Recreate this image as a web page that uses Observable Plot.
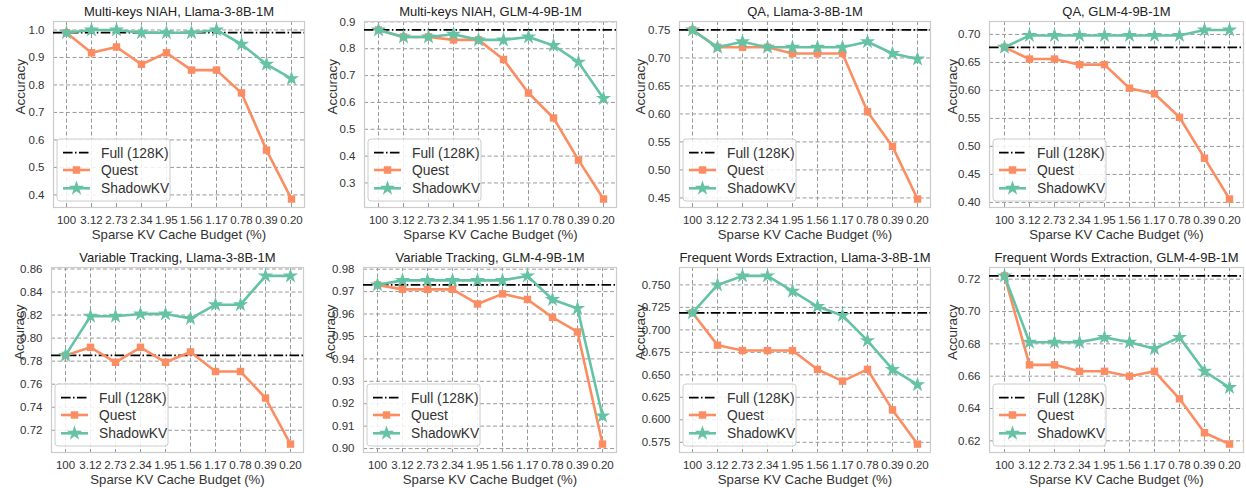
<!DOCTYPE html>
<html><head><meta charset="utf-8">
<script src="https://cdn.jsdelivr.net/npm/d3@7"></script>
<script src="https://cdn.jsdelivr.net/npm/@observablehq/plot@0.6"></script>
<style>
body{margin:0;background:#fff;}
#wrap{position:relative;width:1246px;height:488px;overflow:hidden;font-family:"Liberation Sans",Arial,sans-serif;}
#wrap svg{position:absolute;overflow:visible;}
</style></head><body><div id="wrap"></div>
<script>
// ---------------- data ----------------
const budgets = ["100","3.12","2.73","2.34","1.95","1.56","1.17","0.78","0.39","0.20"];
const titles = [
  "Multi-keys NIAH, Llama-3-8B-1M", "Multi-keys NIAH, GLM-4-9B-1M",
  "QA, Llama-3-8B-1M", "QA, GLM-4-9B-1M",
  "Variable Tracking, Llama-3-8B-1M", "Variable Tracking, GLM-4-9B-1M",
  "Frequent Words Extraction, Llama-3-8B-1M", "Frequent Words Extraction, GLM-4-9B-1M"
];
const seriesNames = ["Full (128K)", "Quest", "ShadowKV"];
const fullValues = [0.99, 0.87, 0.75, 0.677, 0.785, 0.973, 0.719, 0.722];

const quest1 = [0.99, 0.917, 0.938, 0.875, 0.917, 0.854, 0.854, 0.771, 0.563, 0.385];
const shadow1 = [0.99, 1.0, 1.0, 0.99, 0.99, 0.99, 1.0, 0.948, 0.875, 0.823];
const quest2 = [0.87, 0.844, 0.844, 0.833, 0.833, 0.76, 0.635, 0.542, 0.385, 0.24];
const shadow2 = [0.87, 0.844, 0.844, 0.854, 0.833, 0.833, 0.844, 0.812, 0.75, 0.615];
const quest3 = [0.75, 0.719, 0.719, 0.719, 0.708, 0.708, 0.708, 0.604, 0.542, 0.448];
const shadow3 = [0.75, 0.719, 0.729, 0.719, 0.719, 0.719, 0.719, 0.729, 0.708, 0.698];
const quest4 = [0.677, 0.656, 0.656, 0.646, 0.646, 0.604, 0.594, 0.552, 0.479, 0.406];
const shadow4 = [0.677, 0.698, 0.698, 0.698, 0.698, 0.698, 0.698, 0.698, 0.708, 0.708];
const quest5 = [0.785, 0.792, 0.779, 0.792, 0.779, 0.788, 0.771, 0.771, 0.748, 0.708];
const shadow5 = [0.785, 0.819, 0.819, 0.821, 0.821, 0.817, 0.829, 0.829, 0.854, 0.854];
const quest6 = [0.973, 0.971, 0.971, 0.971, 0.9645, 0.969, 0.9665, 0.9585, 0.952, 0.902];
const shadow6 = [0.973, 0.975, 0.975, 0.975, 0.975, 0.975, 0.977, 0.9665, 0.9625, 0.9145];
const quest7 = [0.719, 0.683, 0.677, 0.677, 0.677, 0.656, 0.643, 0.656, 0.611, 0.573];
const shadow7 = [0.719, 0.75, 0.76, 0.76, 0.743, 0.726, 0.716, 0.688, 0.656, 0.639];
const quest8 = [0.722, 0.667, 0.667, 0.663, 0.663, 0.66, 0.663, 0.646, 0.625, 0.618];
const shadow8 = [0.722, 0.681, 0.681, 0.681, 0.684, 0.681, 0.677, 0.684, 0.663, 0.653];

const yTicks1 = [0.4, 0.5, 0.6, 0.7, 0.8, 0.9, 1.0];
const yTicks2 = [0.3, 0.4, 0.5, 0.6, 0.7, 0.8, 0.9];
const yTicks3 = [0.45, 0.50, 0.55, 0.60, 0.65, 0.70, 0.75];
const yTicks4 = [0.40, 0.45, 0.50, 0.55, 0.60, 0.65, 0.70];
const yTicks5 = [0.72, 0.74, 0.76, 0.78, 0.80, 0.82, 0.84, 0.86];
const yTicks6 = [0.90, 0.91, 0.92, 0.93, 0.94, 0.95, 0.96, 0.97, 0.98];
const yTicks7 = [0.575, 0.600, 0.625, 0.650, 0.675, 0.700, 0.725, 0.750];
const yTicks8 = [0.62, 0.64, 0.66, 0.68, 0.70, 0.72];
const tickFormats = [".1f", ".1f", ".2f", ".2f", ".2f", ".2f", ".3f", ".2f"];

const questAll = [quest1, quest2, quest3, quest4, quest5, quest6, quest7, quest8];
const shadowAll = [shadow1, shadow2, shadow3, shadow4, shadow5, shadow6, shadow7, shadow8];
const yTicksAll = [yTicks1, yTicks2, yTicks3, yTicks4, yTicks5, yTicks6, yTicks7, yTicks8];

// ---------------- layout ----------------
const colors = {full: "#000", quest: "#fc8d62", shadow: "#66c2a5"};
const frames = [
  {l: 53, r: 304, t: 21, b: 207, yl: 33},
  {l: 364, r: 616, t: 21, b: 207, yl: 32},
  {l: 679, r: 930, t: 21, b: 207, yl: 39},
  {l: 989, r: 1243, t: 21, b: 207, yl: 37},
  {l: 51, r: 303, t: 267, b: 452, yl: 32},
  {l: 363, r: 616, t: 267, b: 452, yl: 33},
  {l: 679, r: 930, t: 267, b: 452, yl: 39},
  {l: 989, r: 1243, t: 267, b: 452, yl: 37}
];
const FONT = "'Liberation Sans', Arial, sans-serif";
const STAR_R = 4.8, SQUARE_R = 4.2;
const wrap = document.getElementById("wrap");

function render(i) {
  const F = frames[i];
  const mL = 64, mR = 4, mT = 21, mB = 36;
  const width = (F.r - F.l) + mL + mR;
  const height = (F.b - F.t) + mT + mB;
  const qRows = budgets.map((b, j) => ({b, v: questAll[i][j]}));
  const sRows = budgets.map((b, j) => ({b, v: shadowAll[i][j]}));
  const all = questAll[i].concat(shadowAll[i]);
  const lo = d3.min(all), hi = d3.max(all), pad = (hi - lo) * 0.05;
  const fmt = d3.format(tickFormats[i]);
  const gridStyle = {stroke: "#999", strokeOpacity: 1, strokeWidth: 1, strokeDasharray: "4,2.5"};
  const chart = Plot.plot({
    width, height, marginLeft: mL, marginRight: mR, marginTop: mT, marginBottom: mB,
    style: {fontFamily: FONT, fontSize: "11px", color: "#333", background: "transparent", overflow: "visible"},
    x: {type: "point", domain: budgets, padding: 0.45},
    y: {domain: [lo - pad, hi + pad]},
    marks: [
      Plot.gridX(budgets, gridStyle),
      Plot.gridY(yTicksAll[i], gridStyle),
      Plot.frame({stroke: "#ccc", strokeWidth: 1.2}),
      Plot.axisX(budgets, {tickSize: 0, tickPadding: 8, label: null, fontSize: 11.5, fill: "#333"}),
      Plot.axisY(yTicksAll[i], {tickSize: 0, tickPadding: 9, label: null, tickFormat: fmt, fontSize: 11.5, fill: "#333"}),
      Plot.text(["Sparse KV Cache Budget (%)"], {text: d => d, frameAnchor: "bottom", dy: 27, lineAnchor: "middle", fontSize: 13.2, fill: "#333"}),
      Plot.text(["Accuracy"], {text: d => d, frameAnchor: "left", dx: -F.yl, rotate: -90, lineAnchor: "middle", fontSize: 13.5, fill: "#333"}),
      Plot.text([titles[i]], {text: d => d, frameAnchor: "top", dy: -10, lineAnchor: "middle", fontSize: 13, fill: "#222"}),
      Plot.ruleY([fullValues[i]], {stroke: colors.full, strokeWidth: 1.8, strokeDasharray: "9.6,2.4,1.5,2.4"}),
      Plot.line(qRows, {x: "b", y: "v", stroke: colors.quest, strokeWidth: 2.6}),
      Plot.dot(qRows, {x: "b", y: "v", symbol: "square", fill: colors.quest, r: SQUARE_R}),
      Plot.line(sRows, {x: "b", y: "v", stroke: colors.shadow, strokeWidth: 2.6}),
      Plot.dot(sRows, {x: "b", y: "v", symbol: "star", fill: colors.shadow, r: STAR_R})
    ]
  });
  chart.style.left = (F.l - mL) + "px";
  chart.style.top = (F.t - mT) + "px";

  // legend (bottom-left inside the frame)
  const svg = d3.select(chart);
  const bx = mL + 4, bw = 113, bh = 62, by = height - mB - 6 - bh;
  const g = svg.append("g").attr("font-family", FONT).attr("font-size", 13.8).attr("text-anchor", "start");
  g.append("rect").attr("x", bx).attr("y", by).attr("width", bw).attr("height", bh)
    .attr("rx", 3).attr("fill", "#fff").attr("fill-opacity", 0.85).attr("stroke", "#ccc");
  const ys = [13.7, 31, 49.3];
  const styl = [
    {c: colors.full, dash: "9.6,2.4,1.5,2.4", w: 1.8, sym: null},
    {c: colors.quest, dash: null, w: 2.6, sym: d3.symbolSquare, size: Math.PI * SQUARE_R * SQUARE_R},
    {c: colors.shadow, dash: null, w: 2.6, sym: d3.symbolStar, size: Math.PI * STAR_R * STAR_R}
  ];
  seriesNames.forEach((name, k) => {
    const y = by + ys[k], s = styl[k];
    g.append("line").attr("x1", bx + 6).attr("x2", bx + 33).attr("y1", y).attr("y2", y)
      .attr("stroke", s.c).attr("stroke-width", s.w).attr("stroke-dasharray", s.dash);
    if (s.sym) g.append("path").attr("d", d3.symbol(s.sym, s.size)()).attr("transform", `translate(${bx + 19.5},${y})`).attr("fill", s.c);
    g.append("text").attr("x", bx + 44).attr("y", y).attr("dy", "0.35em").attr("fill", "#333").text(name);
  });
  wrap.appendChild(chart);
}
for (let i = 0; i < 8; i++) render(i);
</script></body></html>
